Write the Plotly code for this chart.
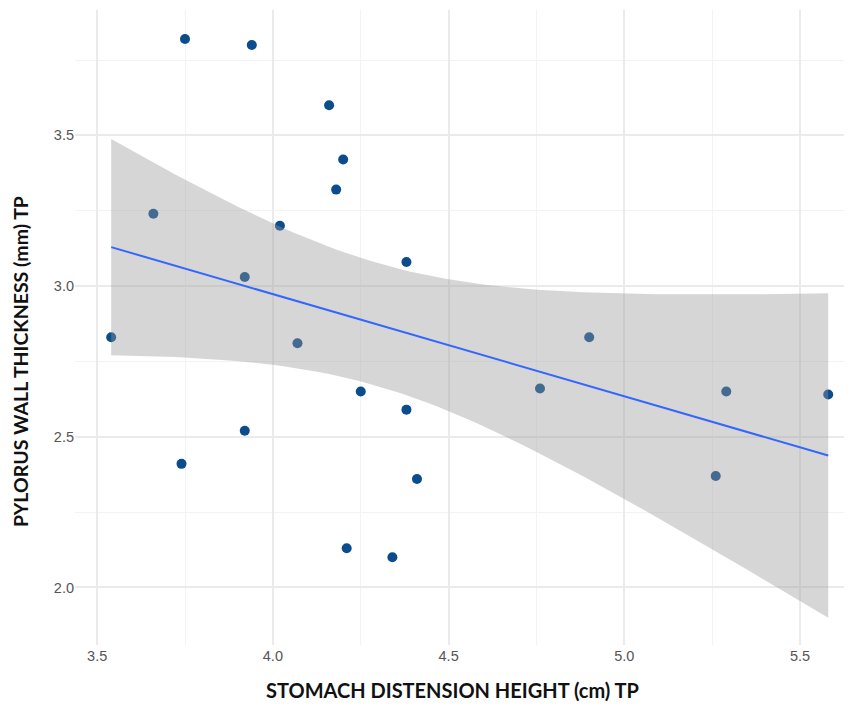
import numpy as np
import plotly.graph_objects as go

# Data
stomach_height = [3.75, 3.94, 4.16, 4.20, 4.18, 3.66, 4.02, 4.38, 3.92, 3.54, 4.07, 4.90,
                  4.76, 4.25, 5.29, 5.58, 4.38, 3.92, 3.74, 4.41, 5.26, 4.21, 4.34]
pylorus_thickness = [3.82, 3.80, 3.60, 3.42, 3.32, 3.24, 3.20, 3.08, 3.03, 2.83, 2.81, 2.83,
                     2.66, 2.65, 2.65, 2.64, 2.59, 2.52, 2.41, 2.36, 2.37, 2.13, 2.10]
x_ticks = [3.5, 4.0, 4.5, 5.0, 5.5]
y_ticks = [2.0, 2.5, 3.0, 3.5]
x_title = "STOMACH DISTENSION HEIGHT (cm) TP"
y_title = "PYLORUS WALL THICKNESS (mm) TP"

x = np.array(stomach_height)
y = np.array(pylorus_thickness)
n = len(x)
slope, intercept = np.polyfit(x, y, 1)
resid = y - (slope * x + intercept)
s = np.sqrt(np.sum(resid ** 2) / (n - 2))
t_crit = 2.0796  # t quantile 0.975, df = 21
xs = np.linspace(x.min(), x.max(), 80)
fit = slope * xs + intercept
se = s * np.sqrt(1.0 / n + (xs - x.mean()) ** 2 / np.sum((x - x.mean()) ** 2))
upper = fit + t_crit * se
lower = fit - t_crit * se

fig = go.Figure()
fig.add_trace(go.Scatter(x=x, y=y, mode="markers",
                         marker=dict(size=10, color="#0b4c8c"), showlegend=False))
fig.add_trace(go.Scatter(x=xs, y=lower, mode="lines", line=dict(width=0),
                         showlegend=False, hoverinfo="skip"))
fig.add_trace(go.Scatter(x=xs, y=upper, mode="lines", line=dict(width=0),
                         fill="tonexty", fillcolor="rgba(153,153,153,0.4)",
                         showlegend=False, hoverinfo="skip"))
fig.add_trace(go.Scatter(x=xs, y=fit, mode="lines",
                         line=dict(color="#3366FF", width=2), showlegend=False))

tick_font = dict(family="Liberation Sans, Arial, sans-serif", size=14.5, color="#555555")
fig.update_layout(
    width=844, height=701,
    margin=dict(l=67, r=2, t=2, b=64),
    plot_bgcolor="white", paper_bgcolor="white",
    xaxis=dict(range=[3.437, 5.642], tickvals=x_ticks, tickformat=".1f",
               showgrid=True, gridcolor="#ebebeb", gridwidth=1.5, zeroline=False,
               showline=False, ticks="", tickfont=tick_font, automargin=False,
               minor=dict(dtick=0.25, tick0=3.25, showgrid=True, gridcolor="#f3f3f3", gridwidth=0.8)),
    yaxis=dict(range=[1.809, 3.916], tickvals=y_ticks, tickformat=".1f",
               showgrid=True, gridcolor="#ebebeb", gridwidth=1.5, zeroline=False,
               showline=False, ticks="", tickfont=tick_font, automargin=False,
               minor=dict(dtick=0.25, tick0=2.25, showgrid=True, gridcolor="#f3f3f3", gridwidth=0.8)),
    annotations=[
        dict(text="<b>" + x_title + "</b>", xref="paper", yref="paper",
             x=0.0, y=-0.0709, xshift=377, xanchor="center", yanchor="middle", showarrow=False,
             font=dict(family="Lato, Liberation Sans, sans-serif", size=20, color="#111111")),
        dict(text="<b>" + y_title + "</b>", xref="paper", yref="paper",
             x=0.0, y=0.4457, xshift=-54, xanchor="center", yanchor="middle", showarrow=False,
             textangle=-90,
             font=dict(family="Lato, Liberation Sans, sans-serif", size=19.5, color="#111111")),
    ],
)
fig.write_html("out.html")
